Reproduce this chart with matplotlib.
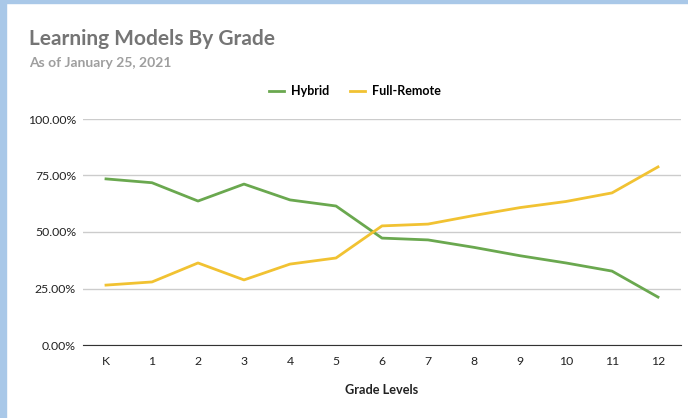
import matplotlib.pyplot as plt
from matplotlib.ticker import PercentFormatter

grades = ['K', '1', '2', '3', '4', '5', '6', '7', '8', '9', '10', '11', '12']
hybrid = [73.5, 71.8, 63.7, 71.2, 64.2, 61.5, 47.3, 46.5, 43.2, 39.5, 36.3, 32.7, 21.2]
full_remote = [26.5, 27.9, 36.3, 28.8, 35.8, 38.5, 52.7, 53.5, 57.3, 60.8, 63.5, 67.3, 78.8]

plt.rcParams['font.family'] = ['Lato', 'DejaVu Sans']

fig = plt.figure(figsize=(6.88, 4.18), dpi=100)
# light blue frame of the screenshot
fig.patches.append(plt.Rectangle((0, 0), 6 / 688, 1, transform=fig.transFigure,
                                 color='#a9c8e8', zorder=0))
fig.patches.append(plt.Rectangle((0, 1 - 3 / 418), 1, 3 / 418, transform=fig.transFigure,
                                 color='#a9c8e8', zorder=0))

ax = fig.add_axes([83 / 688, 1 - 345 / 418, 598 / 688, 226 / 418])
x = range(len(grades))
ax.plot(x, hybrid, color='#6aa84f', lw=2, label='Hybrid')
ax.plot(x, full_remote, color='#f1c232', lw=2, label='Full-Remote')

ax.set_xlim(-0.5, len(grades) - 0.5)
ax.set_ylim(0, 100)
ax.set_yticks([0, 25, 50, 75, 100])
ax.yaxis.set_major_formatter(PercentFormatter(decimals=2))
ax.set_xticks(list(x))
ax.set_xticklabels(grades)
ax.grid(axis='y', color='#cccccc', lw=1)
ax.set_axisbelow(True)
for s in ['top', 'right', 'left']:
    ax.spines[s].set_visible(False)
ax.spines['bottom'].set_color('#333333')
ax.tick_params(length=0, labelsize=8.8, colors='#222222', pad=8)
ax.tick_params(axis='y', pad=5)

ax.set_xlabel('Grade Levels', fontsize=9.2, fontweight='bold', color='#222222', labelpad=12)

fig.text(29 / 688, 1 - 45 / 418, 'Learning Models By Grade', fontsize=15,
         fontweight='bold', color='#757575')
fig.text(29 / 688, 1 - 67 / 418, 'As of January 25, 2021', fontsize=10,
         fontweight='bold', color='#9e9e9e')

fig.legend(loc='center', bbox_to_anchor=(355 / 688, 1 - 91 / 418), ncol=2, frameon=False,
           prop={'size': 9, 'weight': 'bold'}, handlelength=1.2, columnspacing=1.6,
           handletextpad=0.6)

fig.savefig('out.png', dpi=100)
